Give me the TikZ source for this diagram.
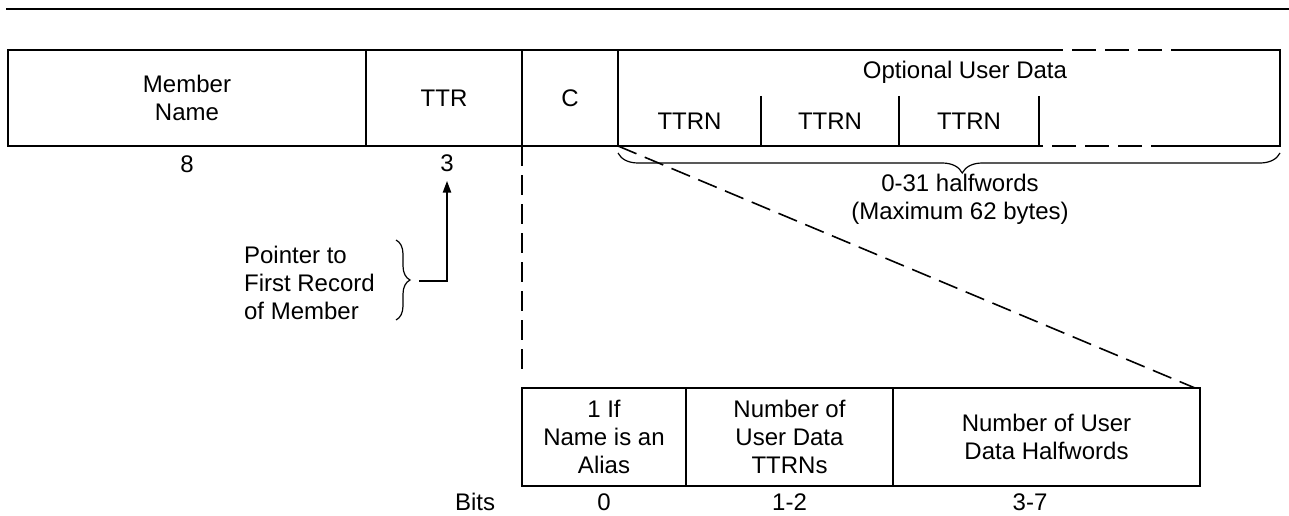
\documentclass[tikz,border=0pt]{standalone}
\usepackage{fontspec}
\setmainfont{Liberation Sans}
\usetikzlibrary{positioning,arrows.meta,decorations.pathreplacing}

\begin{document}
\begin{tikzpicture}[
  x=1pt, y=-1pt,
  every node/.style={font=\fontsize{24}{28}\selectfont, align=center, inner sep=2pt},
  cell/.style={draw, line width=1.6pt, inner sep=0pt, outer sep=0pt, minimum height=96pt},
  bcell/.style={cell, minimum height=98pt},
  slot/.style={inner sep=0pt, outer sep=0pt, minimum height=50pt},
  edge/.style={line width=1.6pt},
  dline/.style={line width=1.6pt, dash pattern=on 20pt off 9pt},
  bline/.style={line width=1.6pt, dash pattern=on 24pt off 9pt},
  arr/.style={-{Triangle[length=12pt,width=8pt]}, line width=2.4pt},
  brc/.style={decorate, line width=1.2pt}
]
  \useasboundingbox (0,0) rectangle (1289,516);
  \draw[line width=2.8pt] (6,9) -- (1289,9);

  % directory entry
  \node[cell, minimum width=358pt, anchor=north west] (name) at (8,50) {Member\\Name};
  \node[cell, minimum width=156pt, right=0pt of name] (ttr) {TTR};
  \node[cell, minimum width=96pt, right=0pt of ttr] (c) {C};
  \node[cell, draw=none, minimum width=662pt, right=0pt of c] (opt) {};
  \node[slot, minimum width=143pt, anchor=south west] (ttrn1) at (opt.south west) {TTRN};
  \node[slot, minimum width=138pt, right=0pt of ttrn1] (ttrn2) {TTRN};
  \node[slot, minimum width=140pt, right=0pt of ttrn2] (ttrn3) {TTRN};
  \node (optlbl) at (965,72) {Optional User Data};

  \draw[edge] (opt.north west) -- (ttrn3.east |- opt.north);
  \draw[bline] (ttrn3.east |- opt.north) -- (1175,50);
  \draw[edge] (1175,50) -- (opt.north east) -- (opt.south east) -- (1175,146);
  \draw[bline] (1175,146) -- (ttrn3.south east);
  \draw[edge] (ttrn3.south east) -- (opt.south west);
  \draw[edge] (ttrn1.north east) -- (ttrn1.south east);
  \draw[edge] (ttrn2.north east) -- (ttrn2.south east);
  \draw[edge] (ttrn3.north east) -- (ttrn3.south east);

  \node (len8) at (187,164) {8};
  \node (len3) at (447,163) {3};
  \draw[brc, decoration={brace, mirror, amplitude=20pt, aspect=0.52}]
    ([yshift=-7pt]opt.south west) -- ([yshift=-7pt]opt.south east);
  \node (span) at (960,199) {0-31 halfwords\\(Maximum 62 bytes)};

  % pointer to first record
  \node[align=left, anchor=east] (ptr) at (377,283) {Pointer to\\First Record\\of Member};
  \draw[brc, decoration={brace, amplitude=14pt}] (396,240) -- (396,320);
  \coordinate (ptrtip) at (419,281);
  \draw[arr] (ptrtip) -| ([yshift=-7pt]len3.south);

  % flag byte
  \node[bcell, minimum width=164pt, anchor=north west] (alias) at (522,388) {1 If\\Name is an\\Alias};
  \node[bcell, minimum width=207pt, right=0pt of alias] (ttrns) {Number of\\User Data\\TTRNs};
  \node[bcell, minimum width=307pt, right=0pt of ttrns] (hw) {Number of User\\Data Halfwords};

  \draw[dline] (ttr.south east) -- ([yshift=10pt]alias.north west);
  \draw[dline] (c.south east) -- ([xshift=-5pt]hw.north east);

  \node (bits) at (475,502) {Bits};
  \node (bit0) at (alias.south |- bits) {0};
  \node (bit12) at (ttrns.south |- bits) {1-2};
  \node (bit37) at (1030,502) {3-7};
\end{tikzpicture}
\end{document}
